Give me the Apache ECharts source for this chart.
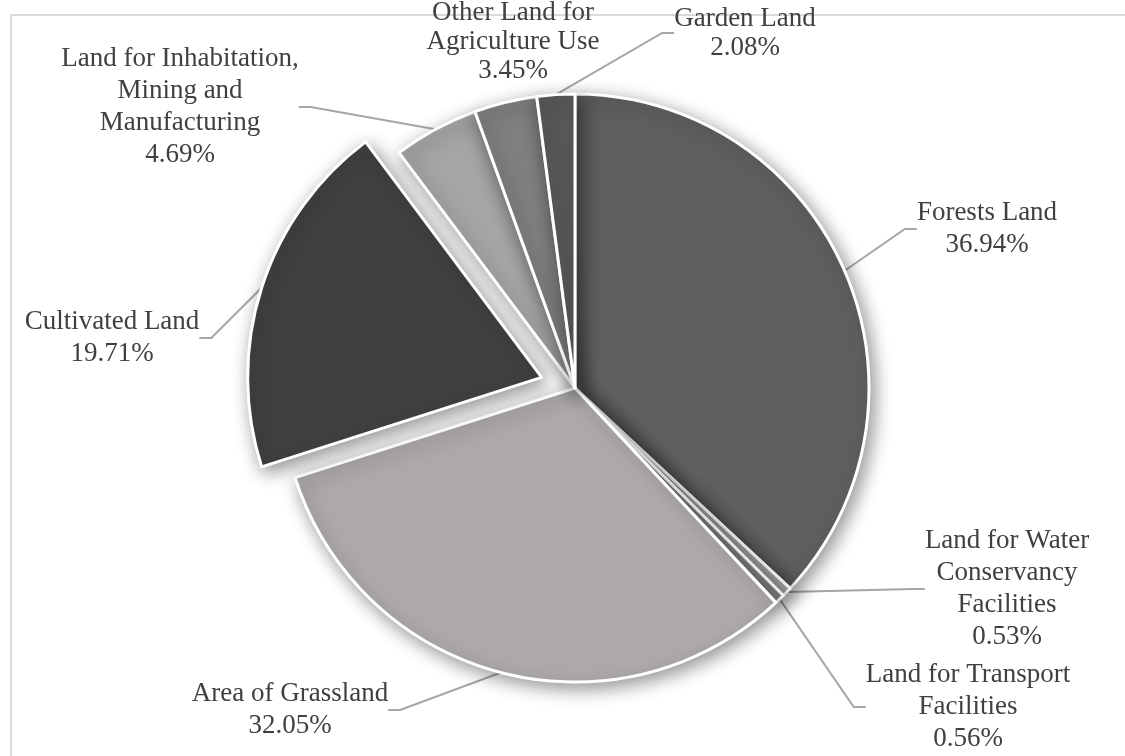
<!DOCTYPE html>
<html>
<head>
<meta charset="utf-8">
<style>
  html, body { margin: 0; padding: 0; background: #ffffff; }
  #chart { width: 1125px; height: 756px; }
</style>
<script src="https://cdn.jsdelivr.net/npm/echarts@6/dist/echarts.min.js"></script>
</head>
<body>
<div id="chart"></div>
<script>
// Land-use shares (%), clockwise from 12 o'clock
const categories = [
  'Forests Land',
  'Land for Water\nConservancy\nFacilities',
  'Land for Transport\nFacilities',
  'Area of Grassland',
  'Cultivated Land',
  'Land for Inhabitation,\nMining and\nManufacturing',
  'Other Land for\nAgriculture Use',
  'Garden Land'
];
const shares = [36.94, 0.53, 0.56, 32.05, 19.71, 4.69, 3.45, 2.08];

// The slice pulled out of the pie
const explodedIndex = 4;

// Slice fills
const sliceColors = ['#5f5f5f', '#b4b4b4', '#8c8c8c', '#aeaaaa', '#404040', '#a5a5a5', '#7f7f7f', '#595959'];

// Label block centres (px) and line heights
const labelCentres = [
  [987, 229], [1007, 589], [968, 707], [290, 710],
  [112, 338], [180, 107], [513, 42], [745, 33]
];
const labelLineHeights = [32, 32, 32, 32, 32, 32, 29, 29];

const pieCenter = [575, 388];
const pieRadius = 294;
const explodeDistance = 35;

// Direction of the pulled-out slice: its mid angle, clockwise from 12 o'clock
const total = shares.reduce((a, b) => a + b, 0);
const before = shares.slice(0, explodedIndex).reduce((a, b) => a + b, 0);
const midAngle = (before + shares[explodedIndex] / 2) / total * 2 * Math.PI;
const explodedCenter = [
  pieCenter[0] + explodeDistance * Math.sin(midAngle),
  pieCenter[1] - explodeDistance * Math.cos(midAngle)
];

const fontFamily = '"Liberation Serif", "Times New Roman", serif';

const sliceStyle = {
  borderColor: '#ffffff',
  borderWidth: 3,
  shadowBlur: 18,
  shadowColor: 'rgba(0,0,0,0.42)',
  shadowOffsetX: 4,
  shadowOffsetY: 5
};
const hiddenStyle = { color: 'rgba(0,0,0,0)', borderWidth: 0, shadowBlur: 0, shadowColor: 'rgba(0,0,0,0)' };

function buildData(showExploded) {
  return categories.map((name, i) => {
    const visible = (i === explodedIndex) === showExploded;
    return {
      name: name,
      value: shares[i],
      itemStyle: visible ? { color: sliceColors[i] } : hiddenStyle,
      label: { show: visible, lineHeight: labelLineHeights[i] },
      labelLine: { show: visible && i !== 6 }
    };
  });
}

function pieSeries(center, showExploded) {
  return {
    type: 'pie',
    center: center,
    radius: pieRadius,
    startAngle: 90,
    clockwise: true,
    avoidLabelOverlap: false,
    silent: true,
    data: buildData(showExploded),
    itemStyle: sliceStyle,
    emphasis: { disabled: true },
    label: {
      position: 'outside',
      fontFamily: fontFamily,
      fontSize: 27,
      color: '#404040',
      align: 'center',
      formatter: (p) => p.name + '\n' + p.value.toFixed(2) + '%'
    },
    labelLine: {
      length: 20,
      length2: 12,
      lineStyle: { color: '#a6a6a6', width: 2 }
    },
    labelLayout: (params) => {
      const c = labelCentres[params.dataIndex];
      return { x: c[0], y: c[1], align: 'center', verticalAlign: 'middle' };
    }
  };
}

const chart = echarts.init(document.getElementById('chart'), null, { renderer: 'canvas' });

chart.setOption({
  animation: false,
  backgroundColor: '#ffffff',
  graphic: [{
    type: 'rect',
    shape: { x: 11, y: 15, width: 1300, height: 900 },
    style: { fill: 'none', stroke: '#d9d9d9', lineWidth: 2 },
    z: -10
  }],
  series: [
    pieSeries(pieCenter, false),
    pieSeries(explodedCenter, true)
  ]
});
</script>
</body>
</html>
